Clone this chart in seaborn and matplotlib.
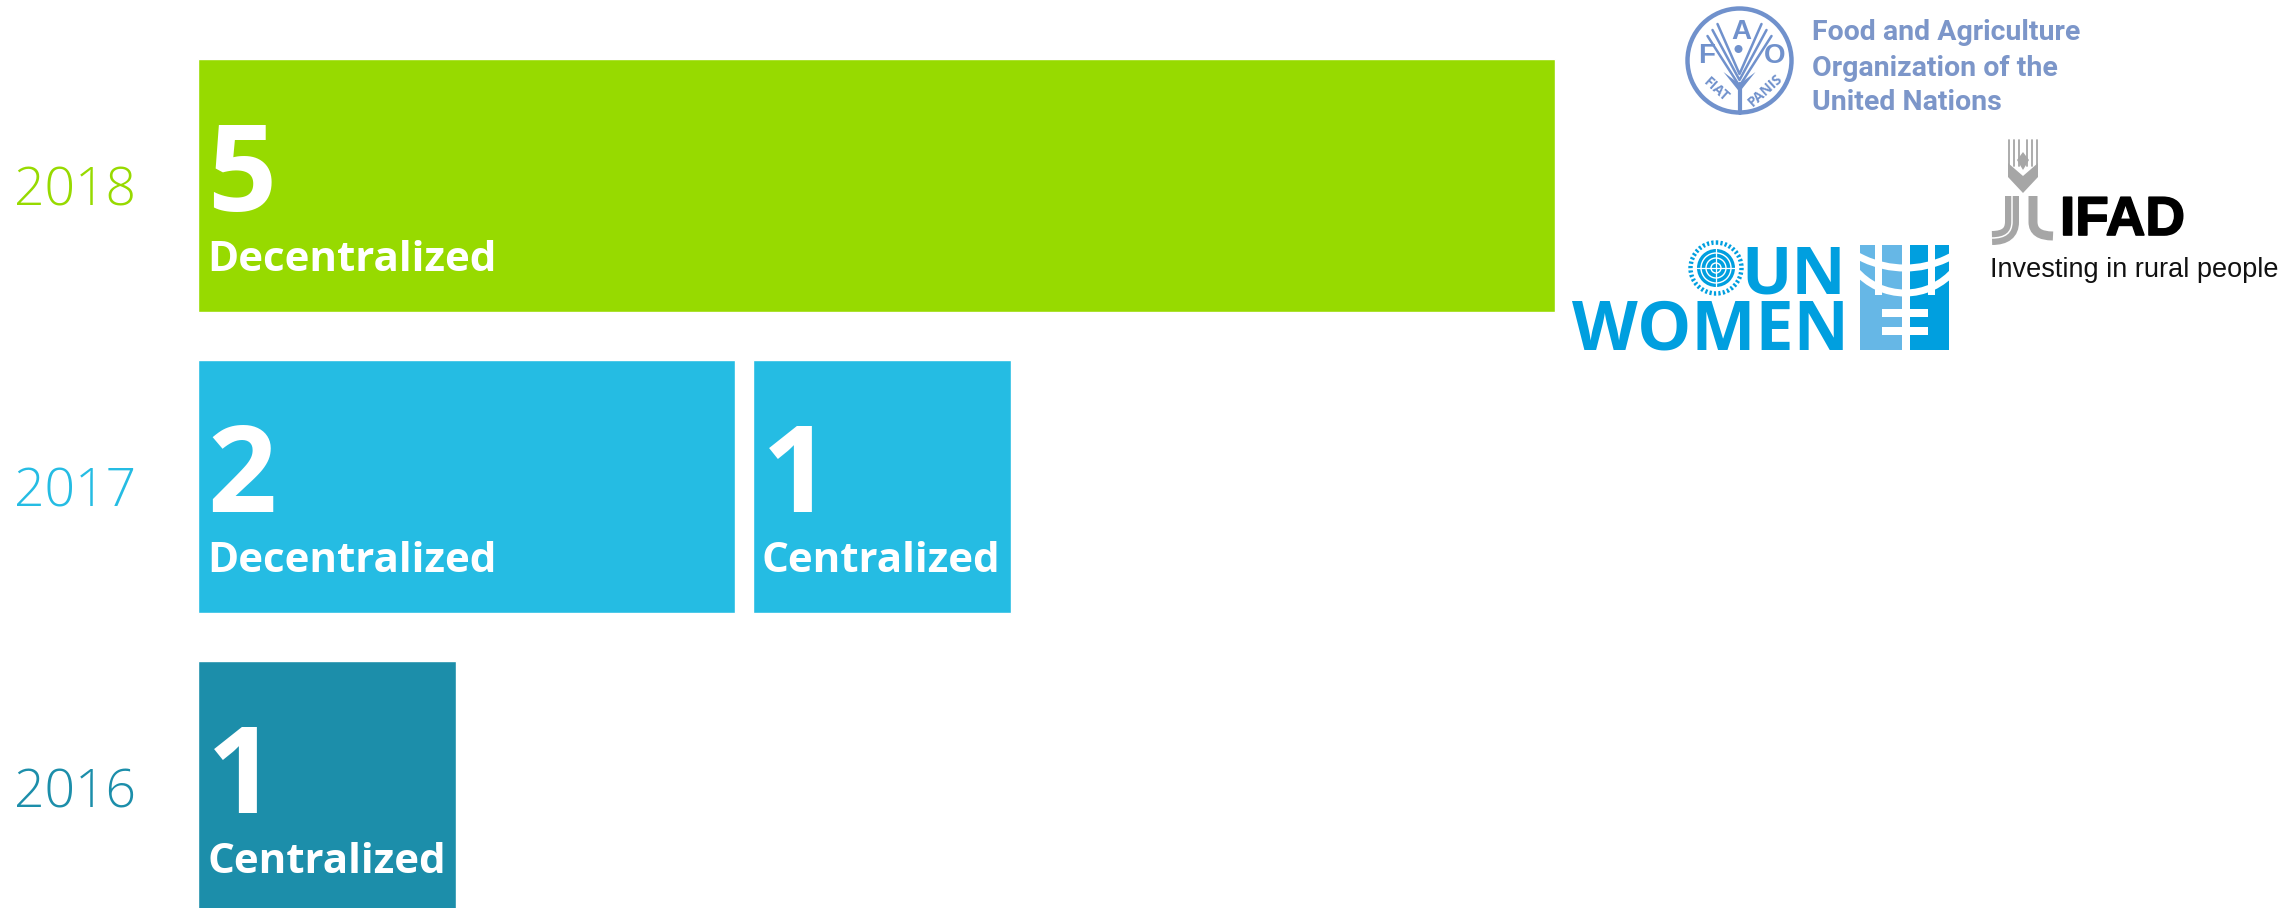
#!/usr/bin/env python3
"""Recreate the evaluations-per-year bar chart with the partner logos."""

import matplotlib
matplotlib.use('Agg')
import matplotlib.pyplot as plt
import matplotlib.patheffects as pe
from matplotlib.patches import Circle, Rectangle, Polygon, Wedge, PathPatch
from matplotlib.path import Path
import pandas as pd
import seaborn as sns

# Chart values
years = ['2018', '2017', '2016']
year_colors = ['#97DA00', '#25BCE3', '#1C8EAA']
first_counts = [5, 2, 1]
first_types = ['Decentralized', 'Decentralized', 'Centralized']
first_lengths = [5.26, 2.08, 1.0]
second_years = ['2017']
second_counts = [1]
second_types = ['Centralized']
second_lengths = [1.0]
second_starts = [2.15]

W, H = 2294, 908
UNIT = 258.0
AX_LEFT, AX_TOP, AX_BOTTOM = 198.0, 34.5, 938.0


def draw_chart(fig):
    ax = fig.add_axes([AX_LEFT / W, 1 - AX_BOTTOM / H, 1 - AX_LEFT / W, (AX_BOTTOM - AX_TOP) / H])

    first = pd.DataFrame({'year': years, 'length': first_lengths})
    sns.barplot(data=first, x='length', y='year', hue='year', palette=year_colors,
                order=years, hue_order=years, legend=False, width=0.84,
                dodge=False, saturation=1, ax=ax)

    second = pd.DataFrame({'year': second_years, 'length': second_lengths})
    sns.barplot(data=second, x='length', y='year', order=years, color=year_colors[1],
                width=0.84, saturation=1, left=second_starts[0], ax=ax)

    ax.set_xlim(0, (W - AX_LEFT) / UNIT)
    ax.set_ylim(2.5, -0.5)
    ax.set_xlabel('')
    ax.set_ylabel('')
    ax.xaxis.set_visible(False)
    ax.tick_params(axis='y', length=0, pad=44.5)
    for label, color in zip(ax.get_yticklabels(), year_colors):
        label.set_color(color)
        label.set_fontsize(38.5)
        label.set_fontweight('light')
    sns.despine(ax=ax, left=True, bottom=True)

    for i, (count, kind) in enumerate(zip(first_counts, first_types)):
        add_bar_text(ax, 0, i, count, kind)
    for yr, count, kind, start in zip(second_years, second_counts, second_types, second_starts):
        add_bar_text(ax, start, years.index(yr), count, kind)


def add_bar_text(ax, start, row, count, kind):
    x = start + 9 / UNIT
    ax.text(x, row + 0.085, str(count), color='white', fontsize=87, fontweight='bold',
            va='baseline', ha='left')
    ax.text(x, row + 0.285, kind, color='white', fontsize=30.3, fontweight='bold',
            va='baseline', ha='left')


def stroke_path(ax, pts, color, px):
    codes = [Path.MOVETO, Path.LINETO, Path.CURVE3, Path.CURVE3]
    ax.add_patch(PathPatch(Path(pts, codes), fc='none', ec=color, lw=px * 0.72, capstyle='butt'))


def draw_fao(ax):
    blue = '#7091CC'
    cx, cy = 1739.5, 60.5
    ax.add_patch(Circle((cx, cy), 52, fc='none', ec=blue, lw=3.2))
    for x, y, s in [(1707, 56, 'F'), (1741, 32, 'A'), (1775, 56, 'O')]:
        ax.text(x, y, s, color=blue, fontsize=20, fontweight='bold', ha='center', va='center',
                family='Liberation Sans')
    for dx, low in [(22, 74), (27, 80), (32, 86)]:
        ax.plot([cx - dx, cx, cx + dx], [low - 50, low, low - 50], color=blue, lw=1.8)
    ax.plot([cx, cx], [84, 113], color=blue, lw=3)
    ax.add_patch(Polygon([(cx - 16, 72), (cx, 92), (cx + 16, 72), (cx, 84)], fc=blue, ec='none'))
    ax.add_patch(Circle((cx - 1, 49), 4, fc=blue, ec='none'))
    ax.text(1716, 90, 'FIAT', color=blue, fontsize=10, fontweight='bold', rotation=-42,
            ha='center', va='center')
    ax.text(1765, 90, 'PANIS', color=blue, fontsize=10, fontweight='bold', rotation=42,
            ha='center', va='center')
    for y, line in zip([33, 68, 102], ['Food and Agriculture', 'Organization of the', 'United Nations']):
        ax.text(1812, y, line, color='#7C96C9', fontsize=20.5, fontweight='bold', va='center',
                family='Roboto')


def draw_ifad(ax):
    gray = '#A6A6A6'
    cx = 2023
    for dx in (-14, -9, -4, 4, 9, 14):
        ax.plot([cx + dx, cx + dx], [140, 166], color=gray, lw=1.3)
    ax.add_patch(Polygon([(cx, 152), (cx + 6, 160), (cx, 170), (cx - 6, 160)], fc=gray, ec='none'))
    ax.add_patch(Polygon([(cx - 15, 163), (cx, 176), (cx + 15, 163), (cx + 15, 177), (cx, 193), (cx - 15, 177)],
                         fc=gray, ec='none'))
    for x0, x1, y, px in [(2012, 1992, 238, 14), (2033, 2053, 236, 9)]:
        pts = [(x0, 196), (x0, 222), (x0, y), (x1, y)]
        stroke_path(ax, pts, gray, px)
    stroke_path(ax, [(2012, 196), (2012, 222), (2012, 238), (1992, 238)], 'white', 1.5)
    ax.text(2060, 235, 'IFAD', color='black', fontsize=39.5, fontweight='bold', va='baseline',
            family='Liberation Sans',
            path_effects=[pe.withStroke(linewidth=1.2, foreground='black')])
    ax.text(1990, 270, 'Investing in rural people', color='#111111', fontsize=19.5, va='center',
            family='Liberation Sans')


def draw_unwomen(ax):
    blue = '#009FDF'
    light = '#66B7E6'
    ax.text(1846, 293, 'UN', color=blue, fontsize=48, fontweight='bold', ha='right', va='baseline',
            family='Open Sans')
    ax.text(1849, 350, 'WOMEN', color=blue, fontsize=49, fontweight='bold', ha='right', va='baseline',
            family='Open Sans')

    # UN seal: globe with a dotted wreath round it
    seal = (1716, 268)
    ax.add_patch(Circle(seal, 25.5, fc='none', ec=blue, lw=3.2, ls=(0, (0.5, 0.5))))
    ax.add_patch(Circle(seal, 19, fc=blue, ec='none'))
    for r in (15, 10, 5):
        ax.add_patch(Circle(seal, r, fc='none', ec='white', lw=1))
    ax.plot([1697, 1735], [268, 268], color='white', lw=0.9)
    ax.plot([1716, 1716], [249, 287], color='white', lw=0.9)

    # emblem: light left half, dark right half, white arcs and comb cut out
    ax.add_patch(Rectangle((1860, 245), 42, 105, fc=light, ec='none'))
    ax.add_patch(Rectangle((1910, 245), 39, 105, fc=blue, ec='none'))
    for x, w in [(1875, 7), (1928, 7)]:
        ax.add_patch(Rectangle((x, 245), w, 50, fc='white', ec='none'))
    for center, radius in [((1905, 170.5), 97.5), ((1905, 228), 65)]:
        ax.add_patch(Wedge(center, radius + 3.5, 40, 140, width=7, fc='white', ec='none'))
    for y in (309, 327):
        ax.add_patch(Rectangle((1882, y), 46, 8, fc='white', ec='none'))


def main():
    sns.set_theme(style='white')
    plt.rcParams['font.family'] = ['Open Sans', 'DejaVu Sans']

    fig = plt.figure(figsize=(W / 100, H / 100), dpi=100, facecolor='white')
    draw_chart(fig)

    logos = fig.add_axes([0, 0, 1, 1])
    logos.set_xlim(0, W)
    logos.set_ylim(H, 0)
    logos.axis('off')
    logos.patch.set_alpha(0)
    draw_fao(logos)
    draw_ifad(logos)
    draw_unwomen(logos)

    fig.savefig('out.png', dpi=100)
    plt.close(fig)


if __name__ == '__main__':
    main()
